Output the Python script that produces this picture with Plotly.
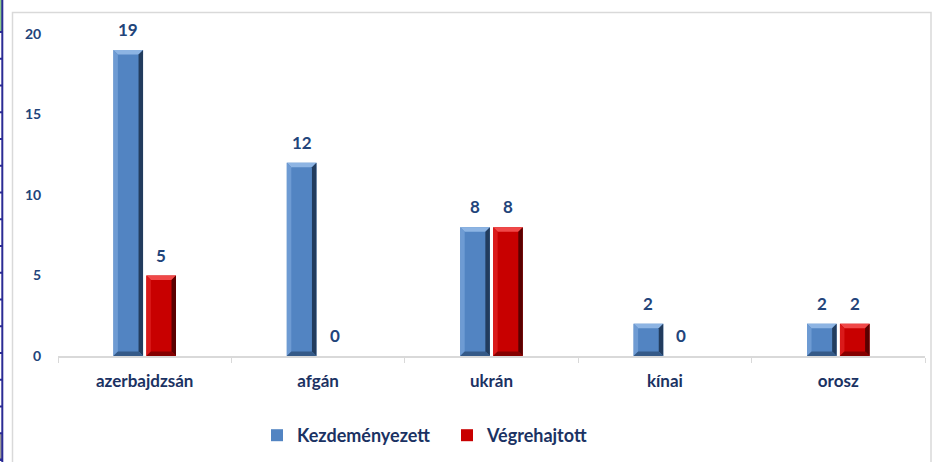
import numpy as np
import plotly.graph_objects as go

# Data
categories = ["azerbajdzsán", "afgán", "ukrán", "kínai", "orosz"]
kezdemenyezett = [19, 12, 8, 2, 2]
vegrehajtott = [5, 0, 8, 0, 2]
series_names = ["Kezdeményezett", "Végrehajtott"]
y_ticks = [0, 5, 10, 15, 20]

W, H = 933, 462
ML, MR, MT, MB = 58, 8, 34, 106
PW, PH = W - ML - MR, H - MT - MB

FONT = "Lato"
NAVY = "#1B3263"
LABEL = "#22447A"

BARGAP, GROUPGAP = 0.62, 0.1
slot = (1 - BARGAP) / 2
bw = slot * (1 - GROUPGAP)

styles = [
    dict(face="#5284C2", top="#8DB4E3", left="#6E9BD3", right="#223C5E", bottom="#355A88"),
    dict(face="#C80000", top="#F04848", left="#DA1A1A", right="#5A0000", bottom="#850000"),
]

fig = go.Figure()
for name, vals, st in zip(series_names, [kezdemenyezett, vegrehajtott], styles):
    fig.add_trace(go.Bar(
        x=categories, y=vals, name=name,
        marker=dict(color=st["face"], line=dict(width=0)),
        hoverinfo="x+y",
    ))


def px2paper_x(px):
    return (px - ML) / PW


def px2paper_y(py):
    return (H - MB - py) / PH


shapes = []
annotations = []

# bevel edges on each bar, derived from the bar values
bev_x = 4.5 / PW * len(categories)             # in category units
bev_y = 4.5 / PH * (y_ticks[-1] - y_ticks[0])  # in value units
for s, (vals, st) in enumerate(zip([kezdemenyezett, vegrehajtott], styles)):
    for i, v in enumerate(vals):
        c = i + (s - 0.5) * slot
        x0, x1 = c - bw / 2, c + bw / 2
        if v > 0:
            polys = [
                (st["top"], [(x0, v), (x1, v), (x1 - bev_x, v - bev_y), (x0 + bev_x, v - bev_y)]),
                (st["left"], [(x0, 0), (x0, v), (x0 + bev_x, v - bev_y), (x0 + bev_x, bev_y)]),
                (st["right"], [(x1, 0), (x1, v), (x1 - bev_x, v - bev_y), (x1 - bev_x, bev_y)]),
                (st["bottom"], [(x0, 0), (x1, 0), (x1 - bev_x, bev_y), (x0 + bev_x, bev_y)]),
            ]
            for col, pts in polys:
                path = "M " + " L ".join(f"{px},{py}" for px, py in pts) + " Z"
                shapes.append(dict(type="path", xref="x", yref="y", path=path,
                                   fillcolor=col, line=dict(width=0), layer="above"))
        annotations.append(dict(
            x=c, y=v, xref="x", yref="y", text=f"<b>{v}</b>", showarrow=False,
            yanchor="bottom", yshift=8,
            font=dict(family=FONT, size=17, color=LABEL),
        ))

# outer chart frame
shapes.append(dict(type="rect", xref="paper", yref="paper",
                   x0=px2paper_x(12.5), x1=px2paper_x(931), y0=px2paper_y(475), y1=px2paper_y(12.5),
                   line=dict(color="#D9D9D9", width=1.5), fillcolor="rgba(0,0,0,0)", layer="below"))

# worksheet strip along the left edge
shapes.append(dict(type="rect", xref="paper", yref="paper",
                   x0=px2paper_x(0), x1=px2paper_x(2), y0=px2paper_y(32), y1=px2paper_y(0),
                   fillcolor="#8CCB8C", line=dict(width=0), layer="below"))
shapes.append(dict(type="rect", xref="paper", yref="paper",
                   x0=px2paper_x(0), x1=px2paper_x(2), y0=px2paper_y(459), y1=px2paper_y(433),
                   fillcolor="#9A9A9A", line=dict(width=0), layer="below"))
shapes.append(dict(type="line", xref="paper", yref="paper",
                   x0=px2paper_x(2.3), x1=px2paper_x(2.3), y0=px2paper_y(0), y1=px2paper_y(462),
                   line=dict(color="#2B2B94", width=2), layer="below"))
for gy in np.arange(32, 462, 26.75):
    shapes.append(dict(type="line", xref="paper", yref="paper",
                       x0=px2paper_x(0), x1=px2paper_x(2.5), y0=px2paper_y(gy), y1=px2paper_y(gy),
                       line=dict(color="#2B2B94", width=2), layer="below"))
shapes.append(dict(type="line", xref="paper", yref="paper",
                   x0=px2paper_x(0), x1=px2paper_x(2.5), y0=px2paper_y(459.5), y1=px2paper_y(459.5),
                   line=dict(color="#2B2B94", width=2), layer="below"))

fig.update_layout(
    width=W, height=H,
    margin=dict(l=ML, r=MR, t=MT, b=MB, pad=0),
    paper_bgcolor="white", plot_bgcolor="white",
    barmode="group", bargap=BARGAP, bargroupgap=GROUPGAP,
    font=dict(family=FONT, color=NAVY),
    showlegend=True,
    legend=dict(
        orientation="h", x=px2paper_x(257), xanchor="left",
        y=px2paper_y(417), yanchor="top",
        font=dict(family=FONT, size=18, color=NAVY, weight="bold"),
        itemwidth=30, tracegroupgap=0,
        entrywidth=145, entrywidthmode="pixels",
    ),
    shapes=shapes,
    annotations=annotations,
)

fig.update_xaxes(
    type="category", tickson="boundaries",
    showline=True, linecolor="#D9D9D9", linewidth=1.5,
    ticks="outside", ticklen=5, tickcolor="#D9D9D9", tickwidth=1,
    tickfont=dict(family=FONT, size=17, color=NAVY, weight="bold"),
    ticklabelstandoff=9,
    showgrid=False, zeroline=False, fixedrange=True,
)
fig.update_yaxes(
    range=[y_ticks[0], y_ticks[-1]], tickvals=y_ticks,
    showline=False, showgrid=False, zeroline=False,
    ticks="outside", ticklen=13, tickcolor="rgba(0,0,0,0)",
    tickfont=dict(family=FONT, size=14, color=LABEL, weight="bold"),
    fixedrange=True,
)

fig.write_html("out.html")
